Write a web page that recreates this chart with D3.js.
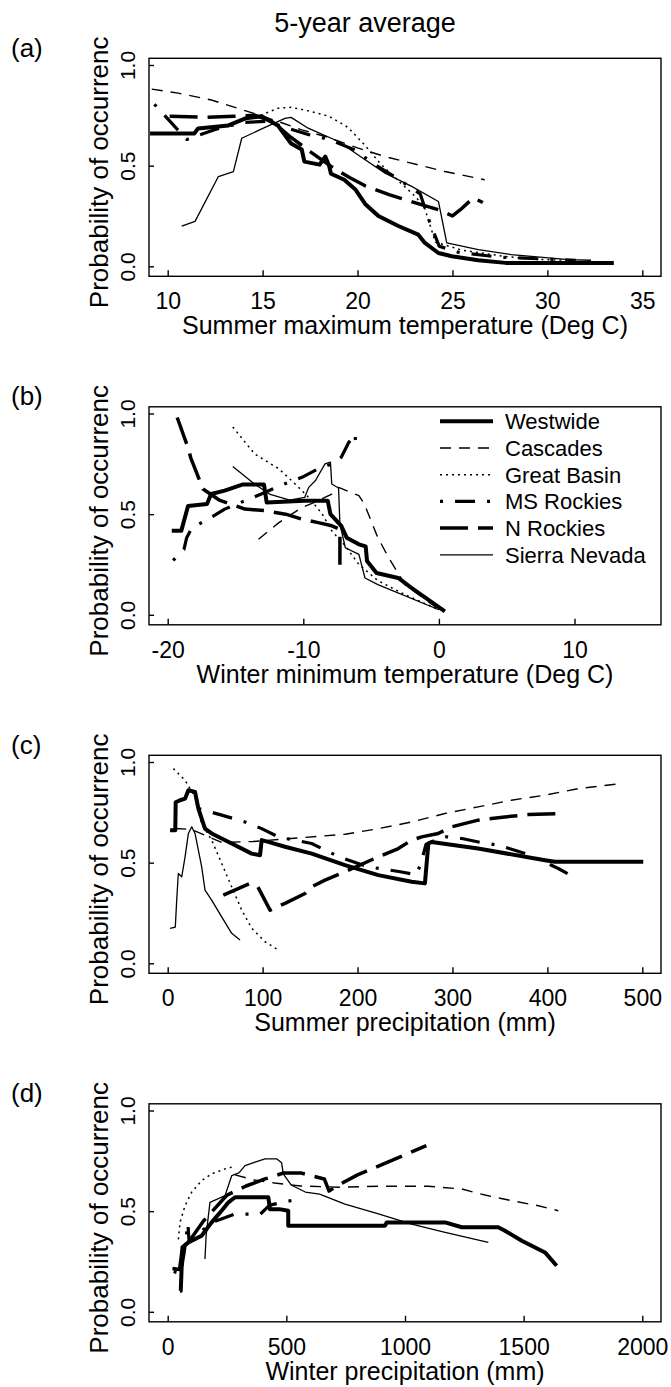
<!DOCTYPE html>
<html>
<head>
<meta charset="utf-8">
<script src="https://cdn.jsdelivr.net/npm/d3@7"></script>
<style>
  body { margin: 0; background: #fff; }
  text { font-family: "Liberation Sans", Arial, sans-serif; fill: #000; }
</style>
</head>
<body>
<svg id="chart" width="671" height="1387"></svg>
<script>
// ---- data ----
var seriesNames = ["Westwide", "Cascades", "Great Basin", "MS Rockies", "N Rockies", "Sierra Nevada"];
var yTicks = [0, 0.5, 1];

// (a) summer maximum temperature
var aTicks = [10, 15, 20, 25, 30, 35];
var aWestwide = [[9.07,0.66],[11.4,0.66],[11.6,0.685],[13.2,0.70],[14.1,0.735],[14.95,0.745],[15.8,0.70],[16.5,0.61],[17.06,0.58],[17.2,0.52],[18.0,0.505],[18.3,0.545],[18.5,0.5],[18.6,0.46],[19.3,0.43],[19.9,0.38],[20.4,0.31],[21.1,0.25],[22.15,0.20],[23.2,0.157],[23.55,0.116],[24.26,0.066],[24.96,0.05],[26.36,0.03],[27.8,0.017],[33.5,0.017]];
var aCascades = [[9.16,0.88],[10.56,0.86],[12.3,0.826],[13.7,0.785],[14.78,0.752],[15.83,0.719],[17.06,0.678],[18.3,0.645],[20.04,0.587],[21.45,0.545],[23.2,0.504],[24.6,0.471],[26.7,0.43]];
var aGreatBasin = [[14.9,0.75],[15.8,0.785],[16.5,0.79],[17.5,0.77],[18.5,0.745],[19.5,0.69],[20.4,0.6],[21.2,0.51],[22.2,0.42],[22.9,0.36],[23.5,0.30],[24.1,0.12],[25.5,0.08],[27.7,0.05],[29.2,0.035],[31.0,0.03]];
var aMSRockies = [[9.3,0.805],[11.0,0.63],[12.5,0.68],[14.0,0.715],[15.2,0.72],[16.2,0.69],[17.4,0.655],[18.5,0.63],[19.8,0.58],[21.0,0.5],[22.2,0.43],[23.3,0.36],[23.8,0.22],[24.3,0.1],[25.3,0.07],[27.5,0.045],[31.5,0.03]];
var aNRockies = [[10.1,0.745],[12.0,0.74],[13.5,0.745],[14.6,0.75],[15.5,0.72],[16.5,0.64],[17.5,0.57],[18.7,0.49],[19.6,0.44],[20.4,0.40],[21.7,0.355],[22.2,0.34],[23.4,0.305],[24.3,0.28],[25.0,0.25],[25.4,0.28],[26.1,0.34],[26.6,0.317]];
var aSierra = [[10.74,0.2],[11.44,0.223],[12.67,0.446],[13.46,0.47],[13.9,0.636],[15.04,0.686],[16.18,0.735],[16.5,0.74],[17.4,0.686],[19.0,0.62],[20.4,0.529],[21.45,0.463],[22.85,0.397],[24.26,0.322],[24.7,0.116],[26.36,0.083],[28.1,0.058],[31.1,0.033],[32.3,0.03]];

// (b) winter minimum temperature
var bTicks = [-20, -10, 0, 10];
var bWestwide = [[-19.7,0.417],[-19.0,0.417],[-18.5,0.54],[-17.1,0.55],[-16.8,0.60],[-15.8,0.617],[-14.5,0.647],[-12.9,0.647],[-12.7,0.558],[-9.9,0.567],[-8.2,0.567],[-8.0,0.50],[-7.2,0.442],[-6.8,0.383],[-5.9,0.35],[-5.4,0.34],[-5.3,0.267],[-4.6,0.208],[-3.0,0.183],[-2.0,0.133],[0.44,0.017]];
var bCascades = [[-13.3,0.375],[-11.8,0.458],[-10.1,0.533],[-8.9,0.567],[-7.9,0.60],[-7.4,0.633],[-5.9,0.592],[-5.5,0.55],[-4.5,0.383],[-3.7,0.283],[-2.5,0.15],[0.2,0.017]];
var bGreatBasin = [[-15.2,0.933],[-13.6,0.80],[-11.8,0.725],[-10.6,0.65],[-9.6,0.583],[-8.6,0.5],[-7.9,0.417],[-7.0,0.35],[-5.9,0.25],[-4.5,0.17],[-2.5,0.10],[0.0,0.025]];
var bMSRockies = [[-19.6,0.27],[-18.8,0.325],[-18.6,0.383],[-18.2,0.433],[-17.0,0.475],[-15.8,0.525],[-14.3,0.567],[-13.1,0.60],[-11.4,0.65],[-10.1,0.683],[-8.9,0.725],[-7.9,0.75],[-7.2,0.783],[-6.7,0.85],[-6.2,0.90],[-6.1,0.833]];
var bNRockies = [[-19.3,0.98],[-18.5,0.83],[-18.3,0.78],[-17.4,0.625],[-16.2,0.57],[-14.3,0.525],[-12.8,0.517],[-11.3,0.50],[-10.1,0.475],[-8.9,0.458],[-7.9,0.442],[-7.3,0.425],[-7.3,0.233]];
var bSierra = [[-15.2,0.737],[-13.6,0.65],[-12.5,0.60],[-11.0,0.57],[-9.9,0.583],[-9.6,0.633],[-9.1,0.667],[-8.4,0.75],[-8.0,0.758],[-7.9,0.65],[-7.4,0.63],[-7.3,0.45],[-6.9,0.333],[-5.9,0.30],[-5.45,0.183],[-4.5,0.15],[0.0,0.025]];

// (c) summer precipitation
var cTicks = [0, 100, 200, 300, 400, 500];
var cWestwide = [[2.5,0.661],[8,0.661],[8.4,0.80],[13,0.81],[18.3,0.818],[21.8,0.86],[28.8,0.851],[32.3,0.769],[35.8,0.719],[39.3,0.669],[46.3,0.645],[67.4,0.595],[88.5,0.545],[97.3,0.537],[99,0.612],[106,0.603],[123.6,0.579],[151.7,0.545],[186.8,0.488],[221.9,0.438],[257,0.405],[271,0.397],[274.6,0.595],[278,0.603],[327,0.57],[397.5,0.512],[407.9,0.504],[501,0.504]];
var cCascades = [[8,0.67],[25,0.665],[40,0.635],[57,0.6],[90,0.605],[130,0.62],[187,0.641],[222,0.669],[257,0.702],[292,0.744],[327,0.777],[362,0.81],[397,0.835],[433,0.868],[478,0.893]];
var cGreatBasin = [[6,0.967],[18.3,0.909],[28.8,0.826],[35.8,0.694],[46.3,0.612],[56.9,0.496],[67.4,0.38],[78,0.264],[88.5,0.174],[102.5,0.107],[116.6,0.066]];
var cMSRockies = [[32.3,0.769],[56.9,0.736],[81.5,0.702],[99,0.669],[116.6,0.628],[151.7,0.595],[180,0.53],[210,0.48],[245,0.455],[262,0.44],[267,0.5],[272,0.59],[290,0.63],[310,0.62],[330,0.60],[350,0.585],[380,0.54],[411.5,0.471],[427,0.43]];
var cNRockies = [[58.6,0.339],[86.7,0.397],[95,0.38],[107.8,0.264],[123.6,0.298],[144.7,0.347],[151.7,0.38],[165.7,0.413],[186.8,0.455],[222,0.529],[243,0.57],[257,0.612],[267.5,0.628],[285,0.645],[299,0.678],[327,0.711],[355,0.727],[380,0.739],[413,0.744]];
var cSierra = [[2.5,0.174],[8,0.18],[9.5,0.314],[11.2,0.446],[14.8,0.43],[18.3,0.529],[21.8,0.645],[25.3,0.678],[28.8,0.645],[35.8,0.479],[39.3,0.364],[46.3,0.314],[56.9,0.231],[67.4,0.149],[76.2,0.116]];

// (d) winter precipitation
var dTicks = [0, 500, 1000, 1500, 2000];
var dWestwide = [[52,0.104],[55,0.104],[62,0.32],[87,0.345],[143,0.378],[185,0.444],[227,0.502],[256,0.544],[284,0.569],[424,0.569],[431,0.51],[470,0.51],[508,0.502],[508,0.428],[916,0.428],[923,0.444],[1169,0.444],[1239,0.42],[1393,0.42],[1421,0.403],[1492,0.353],[1590,0.295],[1639,0.229]];
var dCascades = [[284,0.68],[365,0.655],[450,0.64],[560,0.625],[719,0.619],[888,0.624],[1098,0.624],[1239,0.61],[1337,0.58],[1449,0.552],[1562,0.527],[1646,0.502]];
var dGreatBasin = [[45,0.36],[52,0.444],[73,0.527],[101,0.594],[143,0.652],[185,0.685],[241.6,0.71],[284,0.723]];
var dMSRockies = [[25,0.2],[55,0.19],[70,0.30],[85,0.44],[90,0.35],[140,0.40],[200,0.45],[280,0.485],[390,0.485],[430,0.53],[550,0.56]];
var dNRockies = [[20,0.215],[50,0.21],[60,0.3],[150,0.45],[250,0.58],[330,0.625],[410,0.66],[490,0.69],[560,0.69],[660,0.66],[680,0.6],[720,0.63],[800,0.68],[900,0.73],[1000,0.78],[1090,0.826]];
var dSierra = [[157,0.262],[162,0.38],[178,0.544],[241.6,0.577],[270,0.677],[300,0.69],[326,0.726],[368,0.743],[410,0.76],[459,0.76],[480,0.74],[487,0.685],[520,0.63],[580,0.595],[640,0.585],[747,0.535],[888,0.486],[1028,0.436],[1169,0.395],[1351,0.345]];

// ---- layout ----
var svg = d3.select("#chart");
var boxLeft = 149, boxRight = 661, boxH = 218;
var firstTop = 58.3, panelStep = 348.5;
var font = "'Liberation Sans', Arial, sans-serif";

// line look for each region
var styles = {
    "Westwide":      { w: 4,   dash: null },
    "Cascades":      { w: 1.4, dash: "11,8" },
    "Great Basin":   { w: 1.5, dash: "2,4" },
    "MS Rockies":    { w: 3.2, dash: "3,12,20,12" },
    "N Rockies":     { w: 3.5, dash: "28,10" },
    "Sierra Nevada": { w: 1.3, dash: null }
};

var panels = [
    { label: "(a)", ticks: aTicks, title: "Summer maximum temperature (Deg C)",
      lines: [aWestwide, aCascades, aGreatBasin, aMSRockies, aNRockies, aSierra] },
    { label: "(b)", ticks: bTicks, domain: [-20, 15], title: "Winter minimum temperature (Deg C)",
      lines: [bWestwide, bCascades, bGreatBasin, bMSRockies, bNRockies, bSierra] },
    { label: "(c)", ticks: cTicks, title: "Summer precipitation (mm)",
      lines: [cWestwide, cCascades, cGreatBasin, cMSRockies, cNRockies, cSierra] },
    { label: "(d)", ticks: dTicks, title: "Winter precipitation (mm)",
      lines: [dWestwide, dCascades, dGreatBasin, dMSRockies, dNRockies, dSierra] }
];

svg.append("text")
    .attr("x", 365).attr("y", 32)
    .attr("text-anchor", "middle")
    .style("font-size", "27px")
    .text("5-year average");

panels.forEach(function(p, i) {
    var top = firstTop + i * panelStep;
    var bottom = top + boxH;

    var dom = p.domain || d3.extent(p.ticks);
    var x = d3.scaleLinear().domain(dom).range([167.7, 642.3]);
    var y = d3.scaleLinear().domain([0, 1]).range([top + 208, top + 6.7]);

    var g = svg.append("g");

    // lines
    var line = d3.line().x(d => x(d[0])).y(d => y(d[1]));
    p.lines.forEach(function(data, k) {
        var st = styles[seriesNames[k]];
        g.append("path")
            .datum(data)
            .attr("d", line)
            .attr("fill", "none")
            .attr("stroke", "#000")
            .attr("stroke-width", st.w)
            .attr("stroke-dasharray", st.dash)
            .attr("stroke-linejoin", "round");
    });

    // frame
    g.append("rect")
        .attr("x", boxLeft).attr("y", top)
        .attr("width", boxRight - boxLeft).attr("height", boxH)
        .attr("fill", "none").attr("stroke", "#000").attr("stroke-width", 1.4);

    // x axis, ticks pointing inward
    var xg = g.append("g")
        .attr("transform", `translate(0, ${bottom})`)
        .call(d3.axisBottom(x).tickValues(p.ticks).tickSize(-6).tickSizeOuter(0)
            .tickFormat(d => String(d)));
    xg.select(".domain").remove();
    xg.selectAll("line").attr("stroke-width", 1.4);
    xg.selectAll("text")
        .attr("y", 33).attr("dy", null)
        .style("font-size", "23px").style("font-family", font);

    // y axis, labels turned on their side
    var yg = g.append("g")
        .attr("transform", `translate(${boxLeft}, 0)`)
        .call(d3.axisLeft(y).tickValues(yTicks).tickSize(-5).tickSizeOuter(0)
            .tickFormat(d3.format(".1f")));
    yg.select(".domain").remove();
    yg.selectAll("line").attr("stroke-width", 1.4);
    yg.selectAll("text")
        .attr("x", null).attr("dy", null)
        .attr("transform", "translate(-14,0) rotate(-90)")
        .attr("text-anchor", "middle")
        .style("font-size", "21px").style("font-family", font);

    // axis titles
    g.append("text")
        .attr("x", (boxLeft + boxRight) / 2).attr("y", bottom + 58)
        .attr("text-anchor", "middle")
        .style("font-size", "25px")
        .text(p.title);

    g.append("text")
        .attr("transform", `translate(108, ${top + boxH / 2 + 5}) rotate(-90)`)
        .attr("text-anchor", "middle")
        .style("font-size", "26px")
        .text("Probability of occurrenc");

    g.append("text")
        .attr("x", 11).attr("y", top - 1.5)
        .style("font-size", "26px")
        .text(p.label);

    // legend sits in panel (b)
    if (i === 1) {
        seriesNames.forEach(function(name, k) {
            var ly = 421.3 + k * 26.7;
            var st = styles[name];
            g.append("line")
                .attr("x1", 440).attr("x2", 493)
                .attr("y1", ly).attr("y2", ly)
                .attr("stroke", "#000")
                .attr("stroke-width", st.w)
                .attr("stroke-dasharray", st.dash);
            g.append("text")
                .attr("x", 505).attr("y", ly)
                .attr("dy", "0.36em")
                .style("font-size", "22px")
                .text(name);
        });
    }
});
</script>
</body>
</html>
